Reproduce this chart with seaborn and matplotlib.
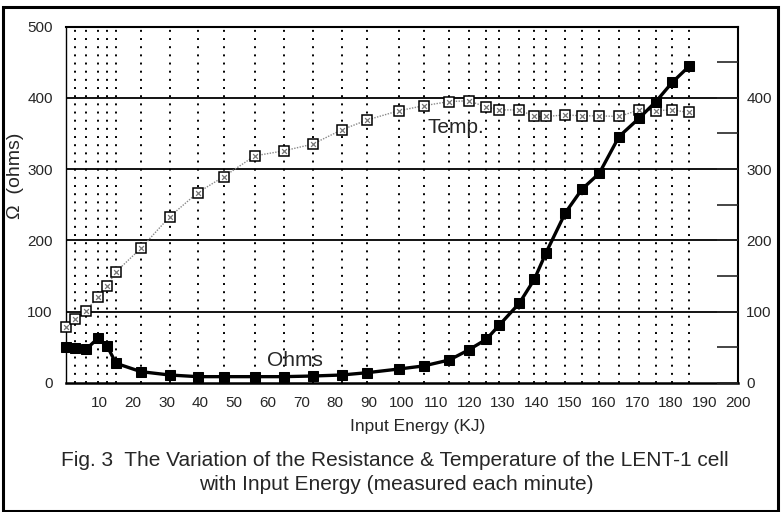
import matplotlib
matplotlib.use('Agg')
import matplotlib.pyplot as plt
import seaborn as sns
from matplotlib.patches import Rectangle

# readings taken each minute
energy_kj = [0, 2.7, 5.9, 9.5, 12.2, 14.9, 22.3, 30.9, 39.2, 47.0, 56.2, 64.8, 73.4, 82.0, 89.7, 99.0,
             106.4, 114.1, 119.8, 125.1, 129.0, 134.9, 139.4, 142.9, 148.6, 153.6, 158.7, 164.6,
             170.6, 175.6, 180.4, 185.4]
ohms = [51, 49.6, 47, 62.7, 52, 27.6, 15.9, 11.2, 8.9, 8.9, 8.9, 8.9, 9.8, 11.2, 14.5, 19.6,
        23.9, 32.3, 46.3, 61.3, 81.4, 111.8, 145.5, 183, 238.6, 272, 294, 345.7,
        371.5, 394.8, 421.5, 444]
temp = [78, 89.8, 101, 121, 136.6, 156, 189, 233.4, 267, 289.6, 318.6, 325.6, 335, 355, 369, 381.8,
        388.8, 394.8, 395.8, 387, 383, 383, 373.8, 373.8, 376, 374.7, 374.7, 373.8,
        383, 382, 383, 379.4]

x_ticks = list(range(10, 201, 10))
left_ticks = [0, 100, 200, 300, 400, 500]
right_ticks = [0, 100, 200, 300, 400]

sns.set_style('white')
plt.rcParams['font.family'] = ['Liberation Sans', 'DejaVu Sans']

fig = plt.figure(figsize=(7.82, 5.12), dpi=100)
ax = fig.add_axes([66 / 782, 1 - 383 / 512, (738 - 66) / 782, (383 - 26.5) / 512])

# vertical dotted lines at every reading
ax.vlines(energy_kj[1:], 0, 500, colors='black', linestyles=(0, (1, 3.2)), linewidth=1.4, zorder=1)
for v in left_ticks[1:-1]:
    ax.axhline(v, color='black', linewidth=1.3, zorder=1)

sns.lineplot(x=energy_kj, y=temp, ax=ax, color='#888888', linestyle=(0, (1, 1)), linewidth=1.0,
             marker='s', markersize=7, markerfacecolor='white', markeredgecolor='black',
             markeredgewidth=1.1, zorder=3, clip_on=False)
sns.scatterplot(x=energy_kj, y=temp, ax=ax, marker='x', s=12, color='#777777', linewidth=0.9,
                zorder=4, clip_on=False)
sns.lineplot(x=energy_kj, y=ohms, ax=ax, color='black', linewidth=2.4,
             marker='s', markersize=7, markerfacecolor='black', markeredgecolor='black',
             zorder=5, clip_on=False)

ax.set_xlim(0, 200)
ax.set_ylim(0, 500)
ax.set_xticks(x_ticks)
ax.set_yticks(left_ticks)
ax.tick_params(axis='x', direction='inout', length=15, width=1.2, labelsize=11, pad=2)
ax.tick_params(axis='y', length=0, labelsize=11, pad=9.5)
for s in ['top', 'right', 'bottom', 'left']:
    ax.spines[s].set_color('black')
ax.spines['left'].set_linewidth(1.0)
ax.spines['top'].set_linewidth(1.5)
ax.spines['right'].set_linewidth(1.5)
ax.spines['bottom'].set_linewidth(1.8)

ax.set_xlabel('Input Energy (KJ)', fontsize=12.5, va='center')
ax.xaxis.set_label_coords((418 - 66) / 672, (383 - 426) / 356.5)
ax.set_ylabel('\u03a9  (ohms)', fontsize=14, va='center')
ax.yaxis.set_label_coords((15 - 66) / 672, (383 - 176) / 356.5)

ax2 = ax.twinx()
ax2.set_ylim(0, 500)
ax2.set_yticks(right_ticks)
ax2.set_yticks(list(range(50, 451, 100)), minor=True)
ax2.tick_params(axis='y', which='both', direction='in', length=15, width=1.2, labelsize=11, pad=6)
for s in ax2.spines.values():
    s.set_visible(False)

ax.text(116, 359, 'Temp.', fontsize=15, ha='center', va='center', zorder=6)
ax.text(68, 32, 'Ohms', fontsize=15, ha='center', va='center', zorder=6)

fig.text(395 / 782, 1 - 460 / 512, 'Fig. 3  The Variation of the Resistance & Temperature of the LENT-1 cell',
         fontsize=15, ha='center', va='center')
fig.text(396 / 782, 1 - 485 / 512, 'with Input Energy (measured each minute)',
         fontsize=15, ha='center', va='center')

fig.patches.append(Rectangle((3 / 782, 0.002), 775 / 782, 1 - 7 / 512 - 0.002, transform=fig.transFigure,
                             fill=False, edgecolor='black', linewidth=2.2))

fig.savefig('out.png', dpi=100)
